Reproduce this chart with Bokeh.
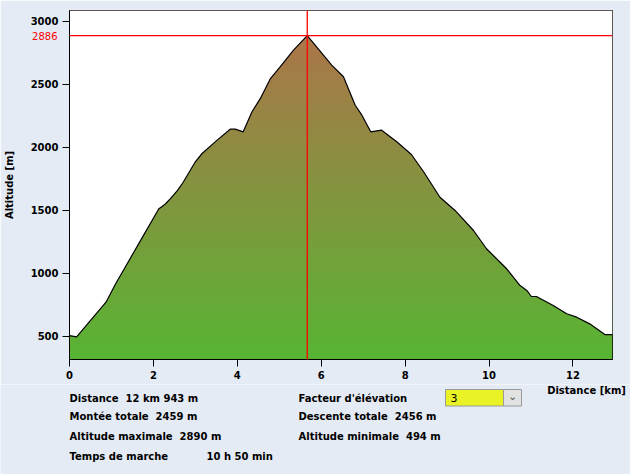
import numpy as np
from bokeh.plotting import figure
from bokeh.models import Range1d, FixedTicker, Span, LinearAxis
from bokeh.core.properties import value
from bokeh.layouts import column
from bokeh.embed import file_html
from bokeh.resources import INLINE

# ---- data ----
distance_km = [0.0, 0.17, 0.87, 1.10, 1.74, 2.13, 2.20, 2.29, 2.40, 2.57, 2.71, 3.00, 3.16,
               3.52, 3.83, 3.95, 4.14, 4.35, 4.55, 4.79, 5.02, 5.34, 5.667, 6.25, 6.53,
               6.81, 6.97, 7.18, 7.44, 7.80, 8.15, 8.44, 8.83, 9.19, 9.63, 9.94, 10.42,
               10.74, 10.90, 11.01, 11.13, 11.53, 11.85, 12.09, 12.40, 12.76, 12.943]
altitude_m = [505, 494, 770, 916, 1286, 1511, 1528, 1551, 1590, 1656, 1722, 1884, 1950,
              2056, 2143, 2143, 2122, 2281, 2387, 2545, 2638, 2770, 2886, 2651, 2559,
              2333, 2254, 2122, 2135, 2043, 1942, 1805, 1603, 1498, 1339, 1194, 1035,
              902, 863, 815, 815, 744, 678, 651, 598, 513, 513]
x_ticks = [0, 2, 4, 6, 8, 10, 12]
y_ticks = [500, 1000, 1500, 2000, 2500, 3000]
peak_label = 2886
peak_x = 5.667
total_km = 12.943
y_lo, y_hi = 315, 3085

stats_left = ["Distance\u00a0 12 km 943 m", "Montée totale\u00a0 2459 m",
              "Altitude maximale\u00a0 2890 m", "Temps de marche"]
stats_right = ["Facteur d'élévation", "Descente totale\u00a0 2456 m", "Altitude minimale\u00a0 494 m"]
walk_time = "10 h 50 min"
factor_value = "3"

FONT = "DejaVu Sans"
FS = "10px"
BG = "#e4ebf4"

# frame placement in the 630x474 window
L, R, T, B = 69, 612, 10, 359
H1 = 384  # height of the chart part; the stats strip below fills the rest

p = figure(width=630, height=H1, x_range=Range1d(0, total_km), y_range=Range1d(y_lo, y_hi),
           output_backend="svg", toolbar_location=None,
           min_border_left=L, min_border_right=630 - R, min_border_top=T, min_border_bottom=H1 - B,
           background_fill_color="white", border_fill_color=BG,
           outline_line_color="black", outline_line_width=1)
p.frame_align = False
p.xgrid.visible = False
p.ygrid.visible = False

# gradient fill (colour by altitude), masked above the profile
N = 300
levels = np.linspace(y_lo, y_hi, N)
c_bot = np.array([88, 181, 52], dtype=float)
c_top = np.array([172, 118, 74], dtype=float)
t = np.clip((levels - y_lo) / (peak_label - y_lo), 0, 1)[:, None]
cols = (c_bot + t * (c_top - c_bot)).astype(np.uint8)
img = np.empty((N, 1), dtype=np.uint32)
view = img.view(dtype=np.uint8).reshape((N, 1, 4))
view[:, 0, 0] = cols[:, 0]
view[:, 0, 1] = cols[:, 1]
view[:, 0, 2] = cols[:, 2]
view[:, 0, 3] = 255
p.image_rgba(image=[img], x=0, y=y_lo, dw=total_km, dh=y_hi - y_lo)

p.varea(x=distance_km, y1=altitude_m, y2=[y_hi] * len(distance_km), fill_color="white")
p.line(distance_km, altitude_m, line_color="black", line_width=1.2)

p.add_layout(Span(location=peak_label, dimension="width", line_color="#ff0000", line_width=1.3))
p.add_layout(Span(location=peak_x, dimension="height", line_color="#ff0000", line_width=1.3))


def style_axis(ax):
    ax.major_label_text_font = FONT
    ax.major_label_text_font_style = "bold"
    ax.major_label_text_font_size = FS
    ax.major_label_text_color = "black"
    ax.minor_tick_line_color = None
    ax.major_tick_in = 0
    ax.major_tick_out = 7
    ax.major_label_standoff = 4
    ax.axis_line_color = "black"
    ax.major_tick_line_color = "black"


style_axis(p.xaxis[0])
style_axis(p.yaxis[0])
p.xaxis[0].ticker = FixedTicker(ticks=x_ticks)
p.yaxis[0].ticker = FixedTicker(ticks=y_ticks)

# outer left axis carrying the red peak value, pulled back over the tick-label column
peak_axis = LinearAxis(ticker=FixedTicker(ticks=[peak_label]), axis_line_color=None,
                       major_tick_line_color=None, minor_tick_line_color=None,
                       major_tick_in=0, major_tick_out=0, major_label_standoff=-30,
                       major_label_text_color="#ff0000", major_label_text_font=FONT,
                       major_label_text_font_size=FS,
                       axis_label="Altitude [m]", axis_label_text_font=FONT,
                       axis_label_text_font_style="bold", axis_label_text_font_size=FS,
                       axis_label_text_color="black", axis_label_standoff=14)
p.add_layout(peak_axis, "left")

# ---- stats strip below the chart (pixel coordinates, y downward) ----
H2 = 474 - H1
s = figure(width=630, height=H2, x_range=Range1d(0, 630), y_range=Range1d(474, H1),
           output_backend="svg", toolbar_location=None, x_axis_type=None, y_axis_type=None,
           min_border=0, background_fill_color=BG, border_fill_color=BG, outline_line_color=None)
s.frame_align = False
s.xgrid.visible = False
s.ygrid.visible = False

rows_y = [397.5, 416, 436, 456]
tx = [69] * len(stats_left) + [298] * len(stats_right) + [206]
ty = rows_y[:len(stats_left)] + rows_y[:len(stats_right)] + [rows_y[3]]
tt = stats_left + stats_right + [walk_time]
txt = dict(text_font=value(FONT), text_font_style="bold", text_font_size=value(FS),
           text_baseline="middle", text_color="black")
s.text(x=tx, y=ty, text=tt, text_align="left", **txt)
s.text(x=[586], y=[390], text=["Distance [km]"], text_align="center", **txt)

# elevation factor combobox
s.quad(left=[445], right=[503], top=[389], bottom=[405.5], fill_color="#e8f224",
       line_color="#9a9a9a", line_width=1)
s.quad(left=[503], right=[521], top=[389], bottom=[405.5], fill_color="#e2e2e2",
       line_color="#9a9a9a", line_width=1)
s.text(x=[450], y=[397.5], text=[factor_value], text_font=value(FONT), text_font_size=value("11px"),
       text_baseline="middle", text_align="left", text_color="black")
s.text(x=[512], y=[396], text=["\u2304"], text_font=value(FONT), text_font_size=value("11px"),
       text_baseline="middle", text_align="center", text_color="#555555")

open("out.html", "w").write(file_html(column(p, s), INLINE))
